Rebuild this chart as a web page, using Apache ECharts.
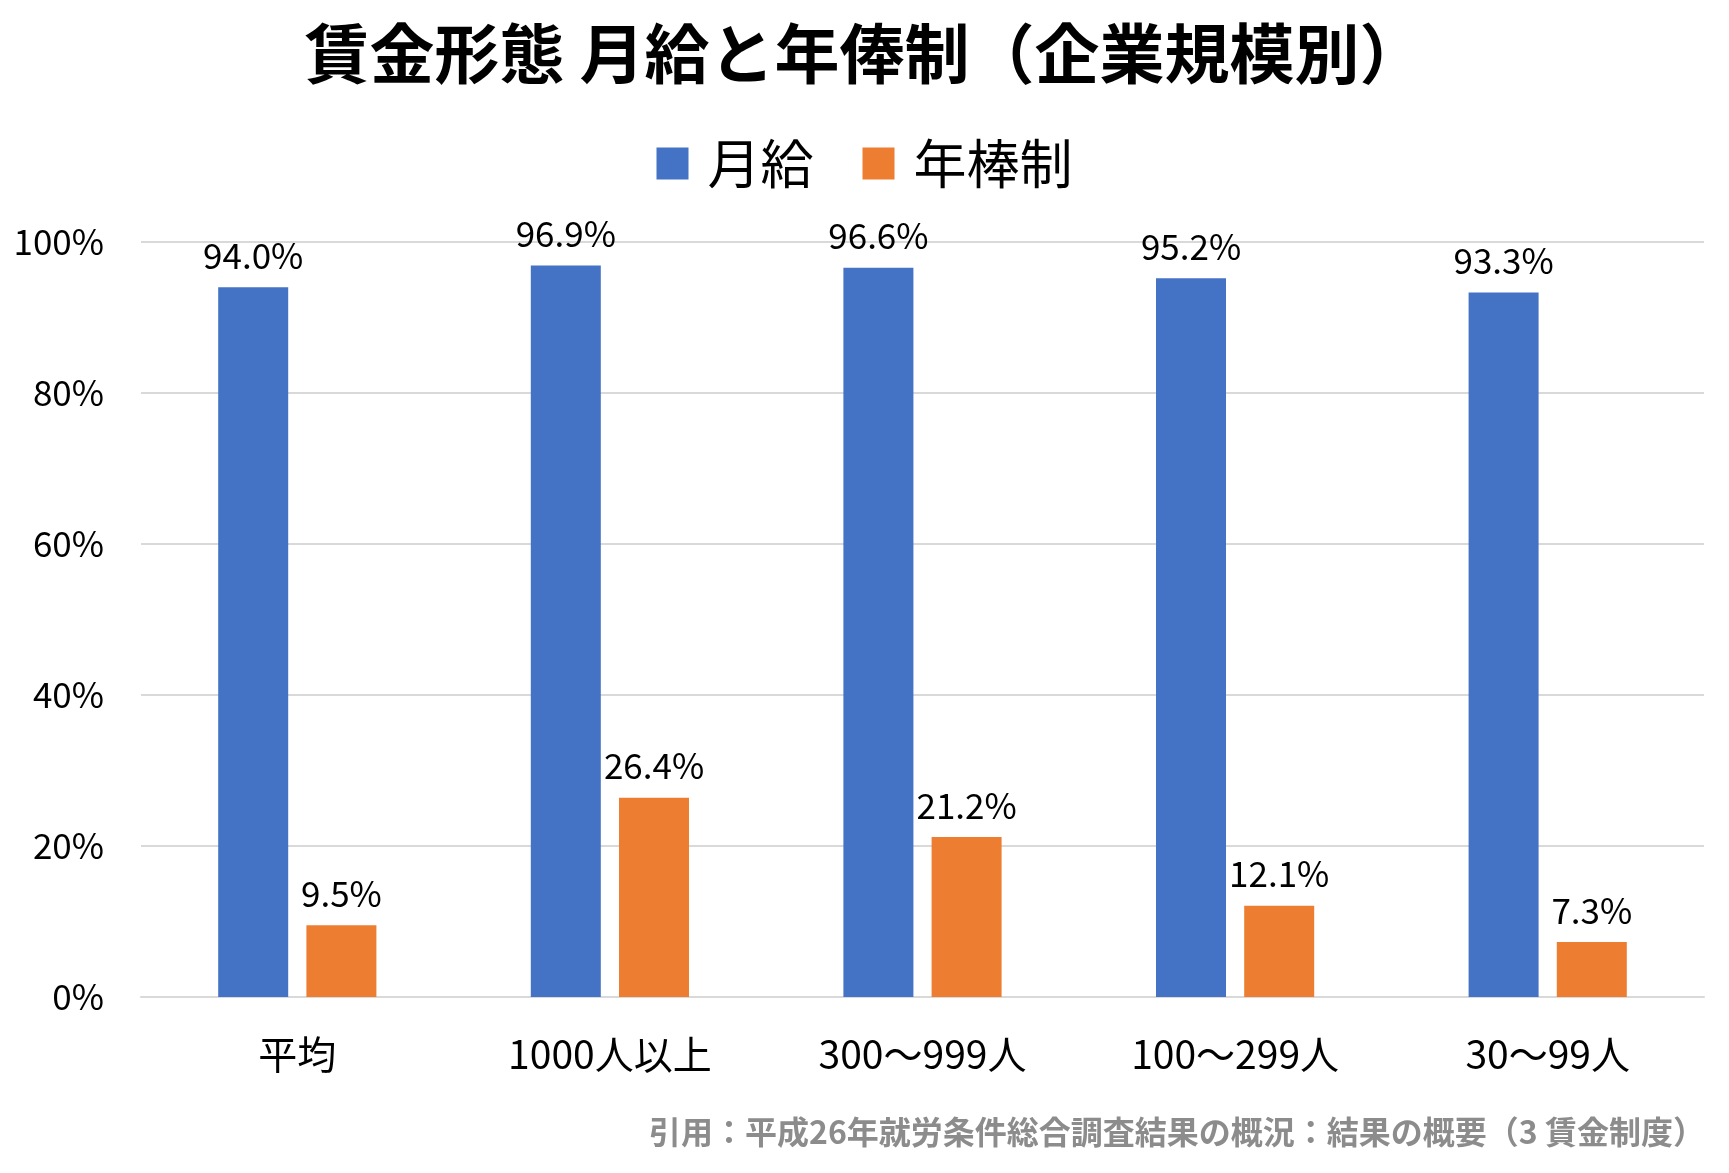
<!DOCTYPE html>
<html><head><meta charset="utf-8">
<script src="https://cdn.jsdelivr.net/npm/echarts@6/dist/echarts.min.js"></script>
<style>html,body{margin:0;padding:0;background:#fff}#c{width:1729px;height:1173px}</style>
</head><body><div id="c"></div>
<script>
const categories = ['平均', '1000人以上', '300～999人', '100～299人', '30～99人'];
const monthly = [94.0, 96.9, 96.6, 95.2, 93.3];
const annual = [9.5, 26.4, 21.2, 12.1, 7.3];
const seriesNames = ['月給', '年棒制'];
const titleText = '賃金形態 月給と年俸制（企業規模別）';
const sourceText = '引用：平成26年就労条件総合調査結果の概況：結果の概要（3 賃金制度）';

const FONT = '"Noto Sans CJK JP", "Noto Sans", sans-serif';
const chart = echarts.init(document.getElementById('c'));
const labelCfg = {show: true, position: 'top', distance: 14, color: '#000', fontSize: 35, fontFamily: FONT,
  formatter: p => p.value.toFixed(1) + '%'};
chart.setOption({
  animation: false,
  textStyle: {fontFamily: FONT},
  title: [{text: titleText, left: 'center', top: 16,
    textStyle: {fontSize: 65, fontWeight: 'bold', color: '#000', fontFamily: FONT}},
    {text: sourceText, right: 19, top: 1111,
    textStyle: {fontSize: 32, fontWeight: 'bold', color: '#8c8c8c', fontFamily: FONT}}],
  legend: {data: seriesNames, top: 132, left: 'center', itemWidth: 32, itemHeight: 32, itemGap: 49,
    icon: 'rect', textStyle: {fontSize: 53, color: '#000', fontFamily: FONT, padding: [0, 0, 0, 14]}},
  grid: {left: 141, right: 25, top: 242, bottom: 176, containLabel: false},
  xAxis: {type: 'category', data: categories,
    axisLine: {lineStyle: {color: '#d9d9d9', width: 2}}, axisTick: {show: false},
    axisLabel: {fontSize: 39, color: '#000', margin: 38, fontFamily: FONT}},
  yAxis: {type: 'value', min: 0, max: 100, interval: 20,
    axisLabel: {formatter: '{value}%', fontSize: 35, color: '#000', margin: 37, fontFamily: FONT},
    splitLine: {lineStyle: {color: '#d9d9d9', width: 2}}, axisLine: {show: false}},
  series: [
    {name: seriesNames[0], type: 'bar', data: monthly, barWidth: 70, barGap: '26%',
      itemStyle: {color: '#4472c4'}, label: labelCfg},
    {name: seriesNames[1], type: 'bar', data: annual, barWidth: 70,
      itemStyle: {color: '#ed7d31'}, label: labelCfg}
  ]
});
</script></body></html>
